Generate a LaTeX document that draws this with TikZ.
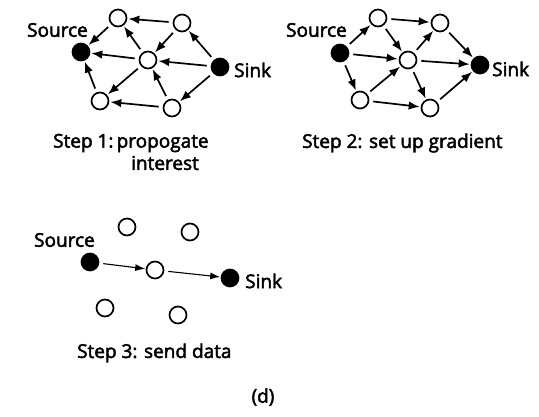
\documentclass[tikz,border=0pt]{standalone}
\usepackage{fontspec}
\newfontfamily\labelfont{Open Sans}[FakeBold=2.5]
\usetikzlibrary{arrows.meta}
\begin{document}
\begin{tikzpicture}[x=1pt,y=-1pt,
  dot/.style={circle,draw,line width=1.7pt,minimum size=17pt,inner sep=0pt,fill=white},
  full/.style={dot,fill=black},
  arr/.style={-{Latex[length=11pt,width=8.5pt]},line width=1.7pt,shorten >=1pt,shorten <=4pt},
  thinarr/.style={-{Latex[length=10pt,width=7pt]},line width=1.1pt,shorten >=0.5pt,shorten <=4pt},
  lbl/.style={font=\labelfont\fontsize{19}{21}\selectfont,inner sep=0pt}]
\useasboundingbox (0,0) rectangle (539,417);

% ---- Step 1: interest flooding from sink towards source
\node[full] (s1) at (81,52) {};
\node[dot]  (a1) at (118,18) {};
\node[dot]  (b1) at (182,23) {};
\node[dot]  (c1) at (148,60) {};
\node[full] (k1) at (220,67) {};
\node[dot]  (d1) at (100,101) {};
\node[dot]  (e1) at (172,108) {};
\node[lbl,anchor=east] (s1l) at (88,30) {Source};
\node[lbl,anchor=west] (k1l) at (234,70) {Sink};
\node[lbl,anchor=west] (cap1) at (53,143) {Step 1:\,propogate};
\node[lbl,anchor=west] (cap1b) at (131,163) {interest};
\draw[arr] (b1) -- (a1);
\draw[arr] (k1) -- (b1);
\draw[arr] (b1) -- (c1);
\draw[arr] (k1) -- (c1);
\draw[arr] (c1) -- (a1);
\draw[arr] (c1) -- (s1);
\draw[arr] (a1) -- (s1);
\draw[arr] (c1) -- (d1);
\draw[arr] (k1) -- (e1);
\draw[arr] (e1) -- (c1);
\draw[arr] (e1) -- (d1);
\draw[arr] (d1) -- (s1);

% ---- Step 2: gradients from source towards sink
\node[full] (s2) at (340,53) {};
\node[dot]  (a2) at (378,18) {};
\node[dot]  (b2) at (440,23) {};
\node[dot]  (c2) at (408,60) {};
\node[full] (k2) at (480,65) {};
\node[dot]  (d2) at (360,100) {};
\node[dot]  (e2) at (430,108) {};
\node[lbl,anchor=east] (s2l) at (347,30) {Source};
\node[lbl,anchor=west] (k2l) at (492,69) {Sink};
\node[lbl,anchor=west] (cap2) at (302,143) {Step 2: set up gradient};
\draw[arr] (s2) -- (a2);
\draw[arr] (a2) -- (b2);
\draw[arr] (a2) -- (c2);
\draw[arr] (s2) -- (c2);
\draw[arr] (b2) -- (k2);
\draw[arr] (c2) -- (b2);
\draw[arr] (c2) -- (k2);
\draw[arr] (s2) -- (d2);
\draw[arr] (d2) -- (c2);
\draw[arr] (c2) -- (e2);
\draw[arr] (d2) -- (e2);
\draw[arr] (e2) -- (k2);

% ---- Step 3: data along the reinforced path
\node[dot]  (a3) at (127,227) {};
\node[dot]  (b3) at (190,232) {};
\node[full] (s3) at (90,262) {};
\node[dot]  (c3) at (155,270) {};
\node[full] (k3) at (230,278) {};
\node[dot]  (d3) at (105,308) {};
\node[dot]  (e3) at (178,315) {};
\node[lbl,anchor=east] (s3l) at (95,240) {Source};
\node[lbl,anchor=west] (k3l) at (245,281) {Sink};
\node[lbl,anchor=west] (cap3) at (77,353) {Step 3: send data};
\draw[thinarr] (s3) -- (c3);
\draw[thinarr] (c3) -- (k3);

\node[lbl] (tag) at (263,397) {(d)};
\end{tikzpicture}
\end{document}
